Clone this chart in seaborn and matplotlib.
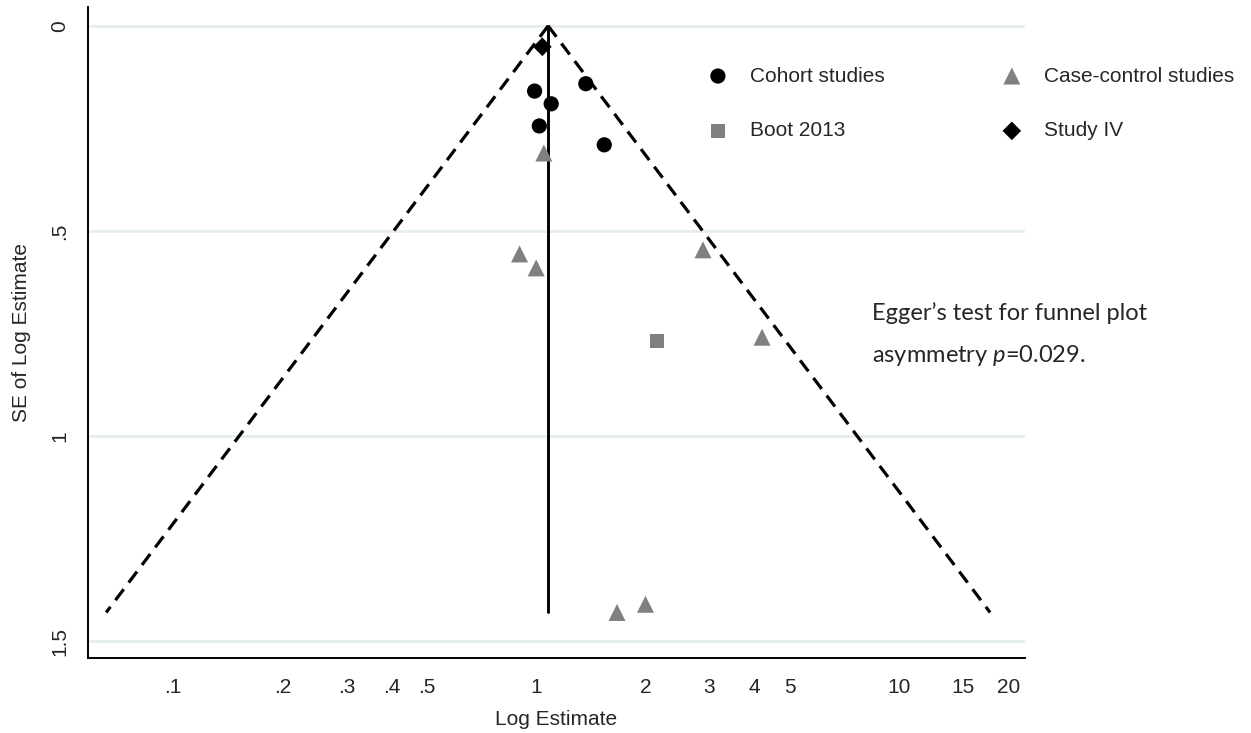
import numpy as np
import pandas as pd
import matplotlib
matplotlib.use("Agg")
import matplotlib.pyplot as plt
import seaborn as sns

# ---- data ----
cohort_est = [0.99, 1.37, 1.10, 1.02, 1.54]
cohort_se = [0.159, 0.141, 0.190, 0.244, 0.290]

case_est = [1.05, 0.90, 1.00, 2.88, 4.19, 1.67, 2.00]
case_se = [0.31, 0.556, 0.59, 0.546, 0.759, 1.43, 1.41]

boot_est = [2.15]
boot_se = [0.768]

study4_est = [1.04]
study4_se = [0.051]

pooled_est = 1.079
se_max = 1.43

xtick_vals = [.1, .2, .3, .4, .5, 1, 2, 3, 4, 5, 10, 15, 20]
xtick_labels = [".1", ".2", ".3", ".4", ".5", "1", "2", "3", "4", "5", "10", "15", "20"]
ytick_vals = [0, .5, 1, 1.5]
ytick_labels = ["0", ".5", "1", "1.5"]

sns.set_style("white")
plt.rcParams["font.family"] = ["Liberation Sans", "DejaVu Sans"]
plt.rcParams["mathtext.fontset"] = "custom"
plt.rcParams["mathtext.rm"] = "Lato"
plt.rcParams["mathtext.it"] = "Lato:italic"

W, H = 1251, 733
fig = plt.figure(figsize=(W / 100, H / 100), dpi=100)
ax = fig.add_axes([88 / W, 1 - 658 / H, (1025 - 88) / W, (658 - 7) / H])

gray = "#808080"
FS = 15

# funnel
se_line = np.array([0, se_max])
z = 1.96
left = np.exp(np.log(pooled_est) - z * se_line)
right = np.exp(np.log(pooled_est) + z * se_line)
ax.plot(left, se_line, color="black", lw=2.3, ls=(0, (4.3, 2.6)), zorder=2)
ax.plot(right, se_line, color="black", lw=2.3, ls=(0, (4.3, 2.6)), zorder=2)
ax.plot([pooled_est, pooled_est], [0, se_max], color="black", lw=2.1, zorder=2)

df_c = pd.DataFrame({"est": cohort_est, "se": cohort_se})
df_cc = pd.DataFrame({"est": case_est, "se": case_se})
df_b = pd.DataFrame({"est": boot_est, "se": boot_se})
df_s = pd.DataFrame({"est": study4_est, "se": study4_se})

sns.scatterplot(data=df_c, x="est", y="se", ax=ax, marker="o", s=120,
                color="black", edgecolor="none", label="Cohort studies", zorder=3)
sns.scatterplot(data=df_b, x="est", y="se", ax=ax, marker="s", s=110,
                color=gray, edgecolor="none", label="Boot 2013", zorder=3)
sns.scatterplot(data=df_cc, x="est", y="se", ax=ax, marker="^", s=150,
                color=gray, edgecolor="none", label="Case-control studies", zorder=3)
sns.scatterplot(data=df_s, x="est", y="se", ax=ax, marker="D", s=90,
                color="black", edgecolor="none", label="Study IV", zorder=3)

ax.set_xscale("log")
ax.set_xlim(0.0583, 22.2)
ax.set_ylim(1.541, -0.046)

ax.set_xticks(xtick_vals)
ax.set_xticklabels(xtick_labels)
ax.xaxis.set_minor_locator(matplotlib.ticker.NullLocator())
ax.set_yticks(ytick_vals)
ax.set_yticklabels(ytick_labels, rotation=90, va="center")

ax.tick_params(axis="both", which="major", length=8.5, width=1.3, color="black",
               labelsize=FS, direction="out")
ax.tick_params(axis="x", pad=6)
ax.tick_params(axis="y", pad=5)

ax.yaxis.grid(True, color="#e6efec", lw=2.0, zorder=0)
ax.xaxis.grid(False)
ax.set_axisbelow(True)

for s in ["top", "right"]:
    ax.spines[s].set_visible(False)
for s in ["left", "bottom"]:
    ax.spines[s].set_color("black")
    ax.spines[s].set_linewidth(1.4)

ax.set_xlabel("Log Estimate", fontsize=FS, labelpad=9)
ax.set_ylabel("SE of Log Estimate", fontsize=FS, labelpad=14)

handles, labels = ax.get_legend_handles_labels()
leg = ax.legend(handles, labels, ncol=2, frameon=False, fontsize=FS,
                loc="upper left", bbox_to_anchor=(707.5 / W, 1 - 66.5 / H),
                bbox_transform=fig.transFigure, borderpad=0, borderaxespad=0,
                handlelength=1.0, handletextpad=1.04, columnspacing=5.6,
                labelspacing=1.72, markerscale=1.0)

fig.text(872 / W, 1 - 313 / H, "Egger\u2019s test for funnel plot",
         fontsize=17, family="Lato", va="center", ha="left")
fig.text(872 / W, 1 - 356 / H, "asymmetry $p$=0.029.",
         fontsize=17, family="Lato", va="center", ha="left")

fig.savefig("out.png", dpi=100)
